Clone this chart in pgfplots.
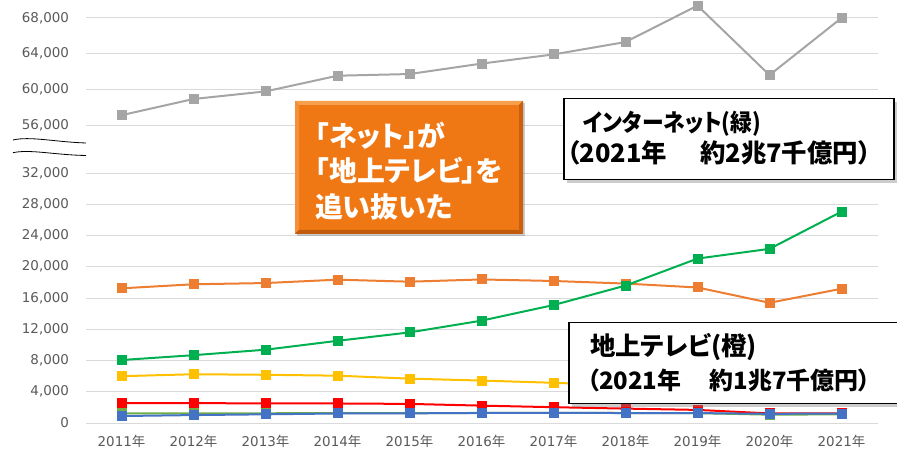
\documentclass[border=0pt]{standalone}
\usepackage{fontspec}
\usepackage{graphicx}
\usepackage{pgfplots}
\pgfplotsset{compat=1.18}
\usetikzlibrary{shadows}
\setmainfont{DejaVu Sans}
\newfontfamily\jp{Noto Sans CJK JP}
\newfontfamily\jpp{Noto Sans CJK JP}[RawFeature=+palt]
\definecolor{cgray}{HTML}{A5A5A5}
\definecolor{corange}{HTML}{ED7D31}
\definecolor{cgreen}{HTML}{00B050}
\definecolor{cyellow}{HTML}{FFC000}
\definecolor{cred}{HTML}{FF0000}
\definecolor{cblue}{HTML}{4472C4}
\definecolor{cradio}{HTML}{70AD47}
\definecolor{ctick}{HTML}{595959}
\definecolor{cgrid}{HTML}{D9D9D9}
\definecolor{cbox}{HTML}{F07814}
\definecolor{cboxlight}{HTML}{F6A04E}
\definecolor{cboxdark}{HTML}{C05A0C}
\pgfplotsset{myax/.style={
  scale only axis, width=792bp, xmin=-0.5, xmax=10.5,
  axis line style={draw=none}, major tick length=0pt,
  ymajorgrids, major grid style={cgrid, line width=0.9bp},
  xtick={0,...,10},
  tick label style={font=\fontsize{13.5}{16}\selectfont, text=ctick},
  /pgf/number format/1000 sep={,},
  /pgf/number format/assume math mode=true,
  scaled y ticks=false,
  yticklabel style={anchor=east, xshift=-13bp},
  xticklabel style={anchor=north, yshift=-9bp},
  every axis plot/.append style={line width=2bp, mark=square*, mark size=4bp, mark options={solid}},
}}
\begin{document}
\begin{tikzpicture}[x=1bp,y=1bp]
\useasboundingbox (0,0) rectangle (897,449);
\coordinate (T) at (85.5,315.1);
\coordinate (B) at (85.5,26);
% top axis
\begin{axis}[myax, at={(T)}, anchor=south west, height=133.8bp,
  ymin=55000, ymax=70000, ytick={56000,60000,64000,68000}, xticklabels={}, clip=false]
\addplot[cgray] coordinates {(0,57096) (1,58913) (2,59762) (3,61522) (4,61710) (5,62880) (6,63907) (7,65300) (8,69381) (9,61594) (10,67998)};
\end{axis}
% bottom axis
\begin{axis}[myax, at={(B)}, anchor=south west, height=257.8bp,
  ymin=0, ymax=33000, ytick={0,4000,...,32000},
  xticklabels={2011{\jp 年},2012{\jp 年},2013{\jp 年},2014{\jp 年},2015{\jp 年},2016{\jp 年},2017{\jp 年},2018{\jp 年},2019{\jp 年},2020{\jp 年},2021{\jp 年}}]
\addplot[corange] coordinates {(0,17237) (1,17757) (2,17913) (3,18347) (4,18088) (5,18374) (6,18178) (7,17848) (8,17345) (9,15386) (10,17184)};
\addplot[cgreen] coordinates {(0,8062) (1,8680) (2,9381) (3,10519) (4,11594) (5,13100) (6,15094) (7,17589) (8,21048) (9,22290) (10,27052)};
\addplot[cyellow] coordinates {(0,5990) (1,6242) (2,6170) (3,6057) (4,5679) (5,5431) (6,5147) (7,4784) (8,4547) (9,3688) (10,3815)};
\addplot[cred] coordinates {(0,2542) (1,2551) (2,2499) (3,2500) (4,2443) (5,2223) (6,2023) (7,1841) (8,1675) (9,1223) (10,1224)};
\addplot[cradio] coordinates {(0,1247) (1,1246) (2,1243) (3,1272) (4,1254) (5,1285) (6,1290) (7,1278) (8,1260) (9,1066) (10,1106)};
\addplot[cblue] coordinates {(0,891) (1,1013) (2,1110) (3,1217) (4,1235) (5,1283) (6,1300) (7,1275) (8,1267) (9,1173) (10,1209)};
\end{axis}
% axis break marks
\draw[black, line width=0.8bp] (13,309) .. controls (30,313) and (55,307) .. (86,306);
\draw[black, line width=0.8bp] (13,296.3) .. controls (30,300) and (55,294) .. (86,293.5);
% orange callout
\node[fill=cbox, minimum width=228bp, minimum height=133bp, anchor=north west, inner sep=0,
  drop shadow={shadow xshift=2bp, shadow yshift=-2bp, opacity=0.4}] at (295,348) {};
\fill[cboxlight] (295,348) -- (523,348) -- (519,344) -- (299,344) -- cycle;
\fill[cboxlight!60!cbox] (295,348) -- (299,344) -- (299,219) -- (295,215) -- cycle;
\fill[cboxdark] (295,215) -- (523,215) -- (519,219) -- (299,219) -- cycle;
\fill[cboxdark!80!cbox] (523,348) -- (523,215) -- (519,219) -- (519,344) -- cycle;
\node[anchor=west, inner sep=0, text=white, align=left, font=\jpp\bfseries\fontsize{28}{35.5}\selectfont] at (315,278) {「ネット」が\\「地上テレビ」を\\追い抜いた};
% internet box
\node[fill=white, draw=black, line width=1.5bp, minimum width=330bp, minimum height=81bp, anchor=north west, inner sep=0,
  drop shadow={shadow xshift=3bp, shadow yshift=-3bp, opacity=0.4}] at (563,351) {};
\node[anchor=west, inner sep=0, font=\jpp\bfseries\fontsize{24}{28}\selectfont] at (583,325) {\scalebox{0.91}[1]{インターネット(緑)}};
\node[anchor=west, inner sep=0, font=\jpp\bfseries\fontsize{25.5}{28}\selectfont] at (567,296) {（2021年\hspace{1.3em}約2兆7千億円）};
% tv box
\node[fill=white, draw=black, line width=1.5bp, minimum width=340bp, minimum height=81bp, anchor=north west, inner sep=0,
  drop shadow={shadow xshift=3bp, shadow yshift=-3bp, opacity=0.4}] at (568,127) {};
\node[anchor=west, inner sep=0, font=\jpp\bfseries\fontsize{25.5}{28}\selectfont] at (590,102) {地上テレビ(橙)};
\node[anchor=west, inner sep=0, font=\jpp\bfseries\fontsize{24}{28}\selectfont] at (587,69) {（2021年\hspace{1.2em}約1兆7千億円）};
\end{tikzpicture}
\end{document}
